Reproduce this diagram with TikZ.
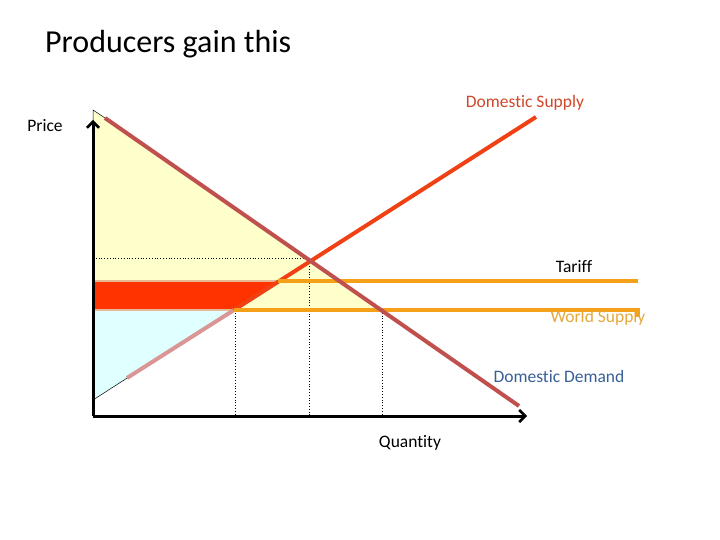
\documentclass[tikz,border=0pt]{standalone}
\usepackage{fontspec}
\setmainfont[Ligatures={NoCommon}]{Carlito}
\usetikzlibrary{arrows.meta}
\definecolor{dem}{RGB}{192,80,77}
\definecolor{sup}{RGB}{240,65,20}
\definecolor{supl}{RGB}{217,150,148}
\definecolor{wor}{RGB}{244,160,25}
\definecolor{tan}{RGB}{230,185,150}
\definecolor{gain}{RGB}{255,51,0}
\definecolor{cs}{RGB}{255,255,204}
\definecolor{ps}{RGB}{224,255,255}
\definecolor{dslab}{RGB}{210,70,40}
\definecolor{wslab}{RGB}{228,168,60}
\definecolor{ddlab}{RGB}{55,95,150}
\tikzset{
  lab/.style={font=\fontsize{17.5}{20}\selectfont, inner sep=0pt},
  axis/.style={line width=3pt, -{Straight Barb[length=6pt,width=12pt,line width=2.5pt]}},
  dots/.style={dotted, line width=0.8pt},
}
\begin{document}
\begin{tikzpicture}[x=1pt,y=-1pt]
\useasboundingbox (0,0) rectangle (720,540);
% surplus areas
\fill[cs] (93,110) -- (381,310) -- (93,310) -- cycle;
\fill[ps] (93,310) -- (234,310) -- (93,400) -- cycle;
\draw[fill=gain, line width=0.4pt] (93,281) -- (278,281) -- (234,310) -- (93,310) -- cycle;
\draw[tan, line width=2.5pt] (93,281) -- (278,281);
\draw[tan, line width=2.5pt] (93,310) -- (234,310);
% dotted guides
\draw[dots] (93,258) -- (309,258) -- (309,415);
\draw[dots] (235,310) -- (235,415);
\draw[dots] (382,310) -- (382,415);
% thin outlines
\draw[line width=0.5pt] (93,122) -- (93,110) -- (105,118);
\draw[line width=0.5pt] (93,400) -- (278,281);
% curves
\draw[supl, line width=4pt] (127,378) -- (234,310);
\draw[sup, line width=4pt] (234,310) -- (536,117);
\draw[wor, line width=4pt] (278,281) -- (638,281);
\draw[wor, line width=4pt] (234,310) -- (638,310) -- (638,317);
\draw[dem, line width=4pt] (105,118) -- (519,406);
% axes
\coordinate (o) at (93,416);
\coordinate (ytop) at (93,120);
\coordinate (xend) at (527,416);
\draw[axis] (o) -- (ytop);
\draw[axis] (o) -- (xend);
% texts
\node[font=\fontsize{32}{36}\selectfont, anchor=west, inner sep=0pt] (title) at (45,44) {Producers gain this};
\node[lab] (price) at (45,126) {Price};
\node[lab, text=dslab] (dsl) at (525,103) {Domestic Supply};
\node[lab] (tar) at (574,267) {Tariff};
\node[lab, text=wslab] (wsl) at (598,318) {World Supply};
\node[lab, text=ddlab] (ddl) at (559,376) {Domestic Demand};
\node[lab] (qty) at (410,443) {Quantity};
\end{tikzpicture}
\end{document}
